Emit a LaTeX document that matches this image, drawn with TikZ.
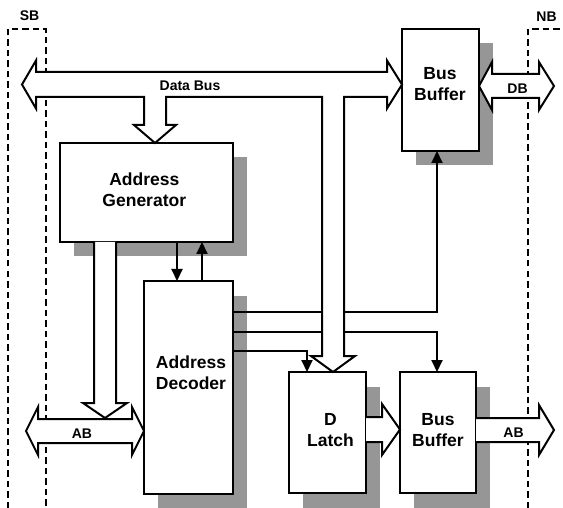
\documentclass[tikz,border=0pt]{standalone}
\usepackage{fontspec}
\setmainfont{Liberation Sans}
\usetikzlibrary{arrows.meta,calc}
\definecolor{shadowgray}{RGB}{150,150,150}
\begin{document}
\begin{tikzpicture}[x=1pt,y=-1pt,
  box/.style={draw=black, line width=2.2pt, fill=white, inner sep=0pt, outer sep=0pt,
    preaction={fill=shadowgray, transform canvas={xshift=13.5pt, yshift=-14.5pt}}},
  boxtext/.style={font=\bfseries\fontsize{17.5}{21}\selectfont, align=center, inner sep=0pt},
  smalltext/.style={font=\bfseries\fontsize{14}{16}\selectfont, inner sep=0pt, anchor=base},
  frame/.style={line width=1.3pt, dash pattern=on 6.5pt off 4pt},
  sig/.style={line width=2pt, -{Triangle[length=12pt,width=11pt]}},
  bus/.style={line width=2pt, fill=white, line join=miter}]
\useasboundingbox (0,0) rectangle (563,508);

% dashed frames
\draw[frame] (8,508) -- (8,29) -- (46,29) -- (46,508);
\draw[frame] (528,508) -- (528,29) -- (563,29);

% boxes
\node[box, minimum width=77pt, minimum height=122pt] (bbt) at (440.5,90) {};
\node[box, minimum width=173pt, minimum height=99pt] (gen) at (146.5,192.5) {};
\node[box, minimum width=89pt, minimum height=213pt] (dec) at (188.5,387.5) {};
\node[box, minimum width=77pt, minimum height=121pt] (dl) at (327.5,432.5) {};
\node[box, minimum width=76pt, minimum height=121pt] (bbb) at (438,432.5) {};

% single-line signals
\draw[sig] (gen.south -| 177,0) -- (dec.north -| 177,0);
\draw[sig] (dec.north -| 202,0) -- (gen.south -| 202,0);
\draw[sig] (dec.east |- 0,312) -| (bbt.south -| 437,0);
\draw[sig] (dec.east |- 0,332) -| (bbb.north -| 437,0);
\draw[sig] (dec.east |- 0,351) -| (dl.north -| 307,0);

% data bus
\filldraw[bus] (22,84.5) -- (36,60.5) -- (36,72) -- (387,72) -- (387,60.5)
  -- (bbt.west |- 0,84.5) -- (387,108.5) -- (387,97) -- (344,97) -- (344,356)
  -- (355,356) -- (dl.north -| 333,0) -- (311,356) -- (322,356) -- (322,97)
  -- (166,97) -- (166,125) -- (176,125) -- (gen.north -| 155,0) -- (134,125)
  -- (144,125) -- (144,97) -- (36,97) -- (36,108.5) -- cycle;
% DB
\filldraw[bus] (bbt.east |- 0,86) -- (492,62) -- (492,74) -- (539,74) -- (539,62)
  -- (554,86) -- (539,110) -- (539,98) -- (492,98) -- (492,110) -- cycle;
% AB left
\filldraw[bus] (26,431) -- (38,407) -- (38,419) -- (132,419) -- (132,407)
  -- (dec.west |- 0,431) -- (132,455) -- (132,443) -- (38,443) -- (38,455) -- cycle;
% generator to AB
\filldraw[bus] (gen.south -| 94,0) -- (94,403) -- (83,403) -- (105,418) -- (127,403)
  -- (116,403) -- (gen.south -| 116,0);
% latch to buffer
\filldraw[bus] (dl.east |- 0,417) -- (382,417) -- (382,404) -- (bbb.west |- 0,429.5)
  -- (382,455) -- (382,442) -- (dl.east |- 0,442);
% buffer to AB right
\filldraw[bus] (bbb.east |- 0,418) -- (539,418) -- (539,405) -- (554,430)
  -- (539,455) -- (539,442) -- (bbb.east |- 0,442);

% texts
\node[boxtext] (bbtT) at ($(bbt.center)+(-0.5,-5.6)$) {Bus\\Buffer};
\node[boxtext] (genT) at ($(gen.center)+(-2.2,-2.5)$) {Address\\Generator};
\node[boxtext] (decT) at ($(dec.center)+(2.5,-14.5)$) {Address\\Decoder};
\node[boxtext] (dlT) at ($(dl.center)+(3,-2.5)$) {D\\Latch};
\node[boxtext] (bbbT) at ($(bbb.center)+(0,-2.8)$) {Bus\\Buffer};

\node[smalltext] (sbl) at (29.5,20.5) {SB};
\node[smalltext] (nbl) at (546.5,21.5) {NB};
\node[smalltext] (dbusl) at (190,91) {Data Bus};
\node[smalltext] (dbl) at (517.5,94) {DB};
\node[smalltext] (abl1) at (82,438.3) {AB};
\node[smalltext] (abl2) at (513.5,437.7) {AB};
\end{tikzpicture}
\end{document}
